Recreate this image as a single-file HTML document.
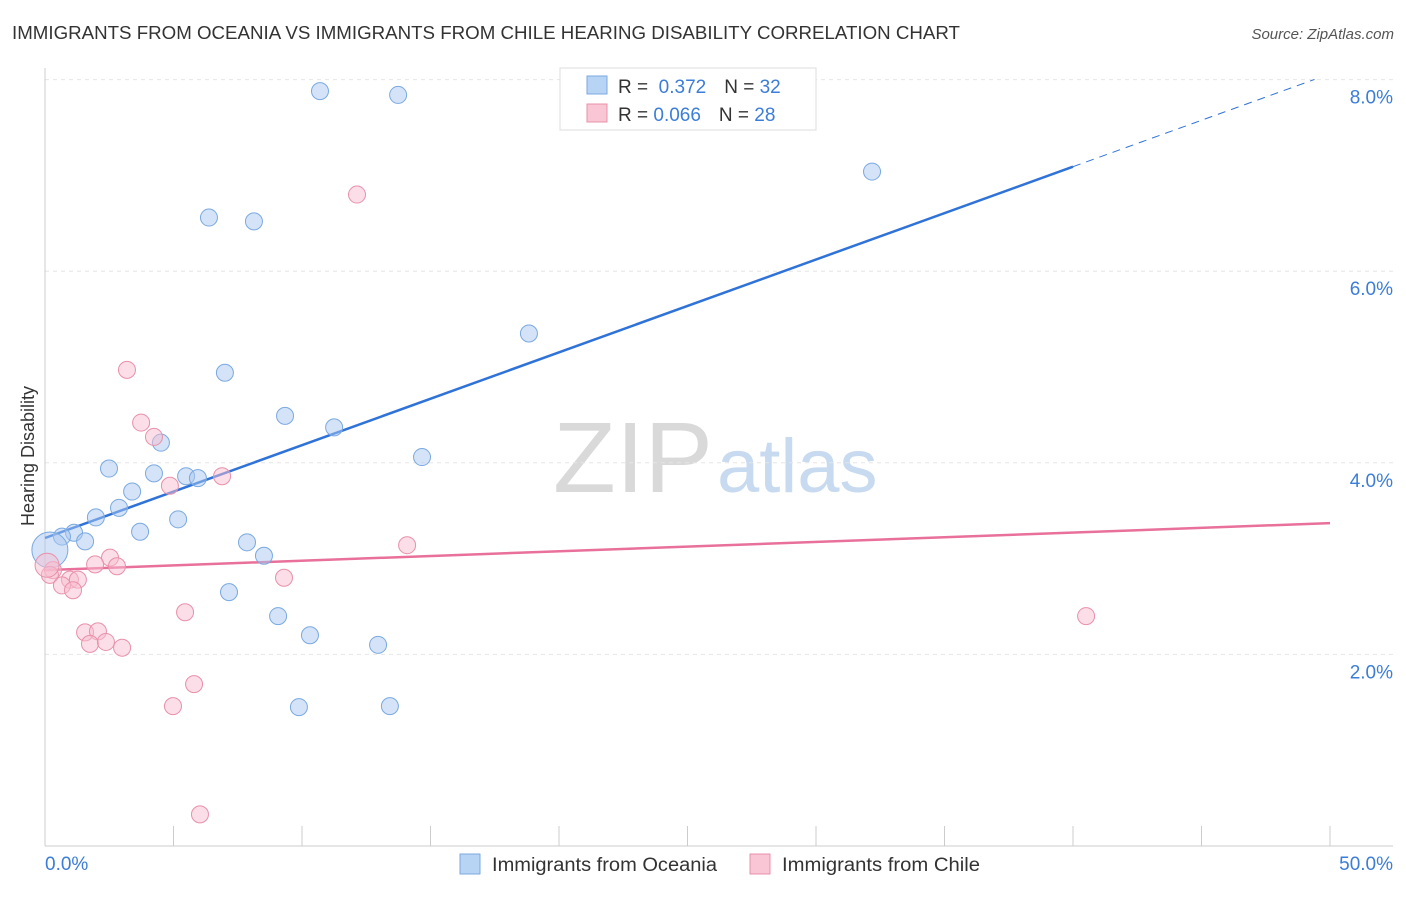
<!DOCTYPE html>
<html><head><meta charset="utf-8"><style>
body{margin:0;background:#fff;font-family:"Liberation Sans",sans-serif}
svg text{font-family:"Liberation Sans",sans-serif}
</style></head><body>
<svg id="chart" width="1406" height="892" xmlns="http://www.w3.org/2000/svg">
<text x="12" y="39" font-size="18.5" fill="#333" textLength="948" lengthAdjust="spacingAndGlyphs">IMMIGRANTS FROM OCEANIA VS IMMIGRANTS FROM CHILE HEARING DISABILITY CORRELATION CHART</text>
<text x="1394" y="39" font-size="15" fill="#555" text-anchor="end" font-style="italic">Source: ZipAtlas.com</text>
<text x="553" y="492" font-size="100" fill="#ddd" font-family="Liberation Serif"><tspan fill="#d9d9d9" textLength="160" lengthAdjust="spacingAndGlyphs">ZIP</tspan><tspan fill="#c7daf0" font-family="Liberation Sans" font-size="76" dx="4">atlas</tspan></text>
<g id="grid"></g>
<g id="axes"></g>
<g id="lines"></g>
<g id="points"></g>
<text transform="translate(34,456) rotate(-90)" font-size="18" fill="#333" text-anchor="middle">Hearing Disability</text>
<g>
<rect x="560" y="68" width="256" height="62" fill="#fff" stroke="#ddd"/>
<rect x="587" y="76" width="20" height="18" fill="#b8d4f4" stroke="#7aa9e0"/>
<rect x="587" y="104" width="20" height="18" fill="#f8c6d4" stroke="#e890aa"/>
<text x="618" y="93" font-size="19" fill="#333">R = <tspan fill="#3b7dd8">&#160;0.372</tspan><tspan dx="18">N = </tspan><tspan fill="#3b7dd8">32</tspan></text>
<text x="618" y="121" font-size="19" fill="#333">R = <tspan fill="#3b7dd8">0.066</tspan><tspan dx="18">N = </tspan><tspan fill="#3b7dd8">28</tspan></text>
</g>
<g>
<rect x="460" y="854" width="20" height="20" fill="#b8d4f4" stroke="#7aa9e0"/>
<text x="492" y="871" font-size="19" fill="#333" textLength="225" lengthAdjust="spacingAndGlyphs">Immigrants from Oceania</text>
<rect x="750" y="854" width="20" height="20" fill="#f8c6d4" stroke="#e890aa"/>
<text x="782" y="871" font-size="19" fill="#333" textLength="198" lengthAdjust="spacingAndGlyphs">Immigrants from Chile</text>
</g>
</svg>
<script>
const blueX=[10.70,13.74,32.18,6.38,8.13,18.83,7.00,9.34,11.25,4.51,14.67,2.49,4.24,5.49,5.95,3.39,2.88,1.98,5.18,3.70,1.13,0.66,1.56,7.86,8.52,0.19,7.16,9.07,10.31,12.96,9.88,13.42];
const blueY=[7.88,7.84,7.04,6.56,6.52,5.35,4.94,4.49,4.37,4.21,4.06,3.94,3.89,3.86,3.84,3.70,3.53,3.43,3.41,3.28,3.27,3.23,3.18,3.17,3.03,3.09,2.65,2.40,2.20,2.10,1.45,1.46];
const pinkX=[12.14,3.19,3.74,4.24,4.86,6.89,14.09,2.53,2.80,1.95,0.31,0.19,0.97,1.28,0.66,1.09,9.30,5.45,1.56,2.06,1.75,2.37,3.00,5.80,4.98,6.03,40.51,0.08];
const pinkY=[6.80,4.97,4.42,4.27,3.76,3.86,3.14,3.01,2.92,2.94,2.88,2.83,2.78,2.78,2.72,2.67,2.80,2.44,2.23,2.24,2.11,2.13,2.07,1.69,1.46,0.33,2.40,2.93];
const yTicks=[2,4,6,8];
const yTickLabels=["2.0%","4.0%","6.0%","8.0%"];
const xTicks=[5,10,15,20,25,30,35,40,45,50];
const blueLine=[3.215,0.0969];
const pinkLine=[2.88,0.0098];
const NS="http://www.w3.org/2000/svg";
const sx=v=>45+v*25.7, sy=v=>846-v*95.8;
function mk(tag,attrs,parent){const e=document.createElementNS(NS,tag);for(const k in attrs)e.setAttribute(k,attrs[k]);document.getElementById(parent).appendChild(e);return e;}
yTicks.forEach((t,i)=>{
 const l=mk('line',{x1:45,x2:1393,y1:sy(t),y2:sy(t),stroke:'#e6e6e6','stroke-dasharray':'4,4'},'grid');
 
 
 const tx=mk('text',{x:1393,y:sy(t)+24,'font-size':19,fill:'#3b7dd8','text-anchor':'end'},'grid');
 tx.textContent=yTickLabels[i];
 
 
});
let a=mk('line',{x1:45,x2:45,y1:68,y2:846,stroke:'#ccc'},'axes');


a=mk('line',{x1:45,x2:1393,y1:846,y2:846,stroke:'#ccc'},'axes');


xTicks.forEach(t=>{const l=mk('line',{x1:sx(t),x2:sx(t),y1:826,y2:846,stroke:'#ccc'},'axes');
 
 });
let t0=mk('text',{x:45,y:870,'font-size':19,fill:'#3b7dd8'},'axes');t0.textContent='0.0%';


let t1=mk('text',{x:1393,y:870,'font-size':19,fill:'#3b7dd8','text-anchor':'end'},'axes');t1.textContent='50.0%';


let bl=mk('line',{x1:sx(0),y1:sy(blueLine[0]),x2:sx(40),y2:sy(blueLine[0]+blueLine[1]*40),stroke:'#2f72d8','stroke-width':2.5},'lines');


let bd=mk('line',{x1:sx(40),y1:sy(blueLine[0]+blueLine[1]*40),x2:sx(49.4),y2:sy(blueLine[0]+blueLine[1]*49.4),stroke:'#2f72d8','stroke-width':1,'stroke-dasharray':'8,6'},'lines');


let pl=mk('line',{x1:sx(0),y1:sy(pinkLine[0]),x2:sx(50),y2:sy(pinkLine[0]+pinkLine[1]*50),stroke:'#e8709a','stroke-width':2.5},'lines');


blueX.forEach((x,i)=>{const c=mk('circle',{cx:sx(x),cy:sy(blueY[i]),r:i==25?18:8.5,fill:'rgba(170,200,240,0.5)',stroke:'#7aa9e0','stroke-width':1},'points');
 
 });
pinkX.forEach((x,i)=>{const c=mk('circle',{cx:sx(x),cy:sy(pinkY[i]),r:i==27?12:8.5,fill:'rgba(248,190,208,0.5)',stroke:'#e890aa','stroke-width':1},'points');
 
 });
</script>
</body></html>
